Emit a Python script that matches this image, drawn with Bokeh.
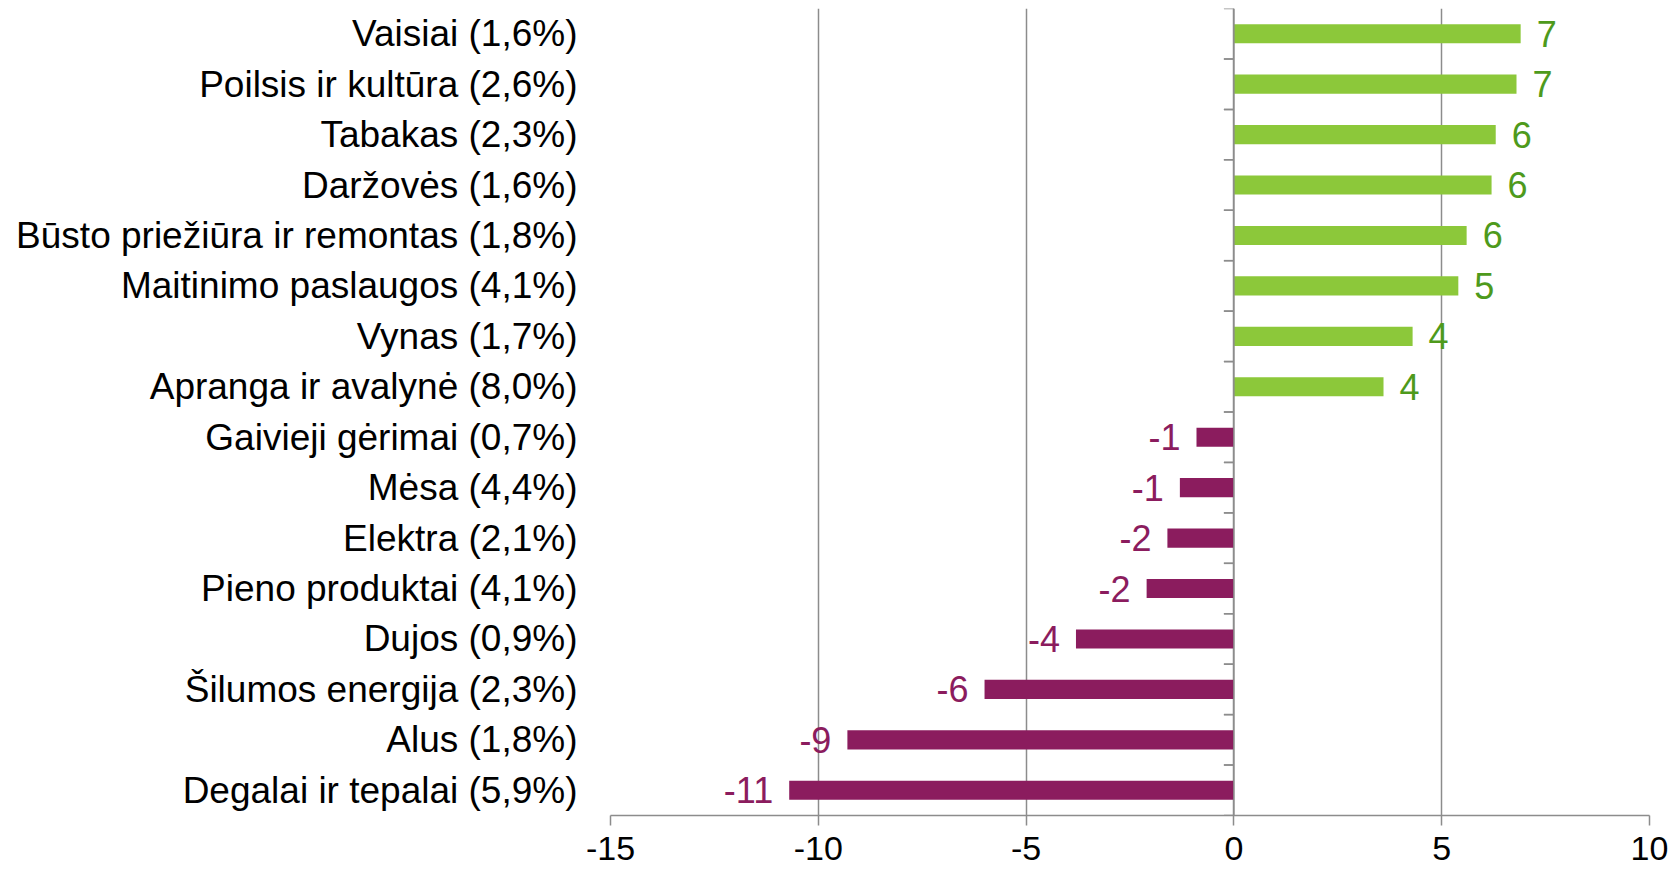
from bokeh.plotting import figure
from bokeh.models import ColumnDataSource, FactorRange, Range1d, Span, FixedTicker
from bokeh.transform import dodge
from bokeh.core.properties import value
from bokeh.embed import file_html
from bokeh.resources import INLINE

categories = [
    "Vaisiai (1,6%)", "Poilsis ir kultūra (2,6%)", "Tabakas (2,3%)", "Daržovės (1,6%)",
    "Būsto priežiūra ir remontas (1,8%)", "Maitinimo paslaugos (4,1%)", "Vynas (1,7%)",
    "Apranga ir avalynė (8,0%)", "Gaivieji gėrimai (0,7%)", "Mėsa (4,4%)", "Elektra (2,1%)",
    "Pieno produktai (4,1%)", "Dujos (0,9%)", "Šilumos energija (2,3%)", "Alus (1,8%)",
    "Degalai ir tepalai (5,9%)",
]
values = [6.9, 6.8, 6.3, 6.2, 5.6, 5.4, 4.3, 3.6, -0.9, -1.3, -1.6, -2.1, -3.8, -6.0, -9.3, -10.7]
x_ticks = [-15, -10, -5, 0, 5, 10]
x_tick_labels = ["-15", "-10", "-5", "0", "5", "10"]

GREEN = "#8cc83a"
GREEN_TXT = "#4e9a1c"
PURPLE = "#8b1c5e"
FONT = "Liberation Sans"
GRID = "#8c8c8c"

W, H = 1671, 874
BL, BR, BT, BB = 610, 22, 8, 59
px_per_unit = (W - BL - BR) / 25.0
off = 16 / px_per_unit
tick_len = 10 / px_per_unit

cats_rev = list(reversed(categories))
src = ColumnDataSource(dict(
    cat=categories,
    val=values,
    zero=[0] * len(values),
    color=[GREEN if v >= 0 else PURPLE for v in values],
    tcolor=[GREEN_TXT if v >= 0 else PURPLE for v in values],
    lab=[str(int(round(v))) for v in values],
    lx=[v + off if v >= 0 else v - off for v in values],
    align=["left" if v >= 0 else "right" for v in values],
    t0=[-tick_len] * len(values),
))

p = figure(width=W, height=H, output_backend="svg", toolbar_location=None,
           y_range=FactorRange(*cats_rev, range_padding=0), x_range=Range1d(-15, 10),
           min_border_left=BL, min_border_right=BR, min_border_top=BT, min_border_bottom=BB)
p.outline_line_color = None
p.background_fill_color = "white"
p.border_fill_color = "white"

p.hbar(y="cat", left="zero", right="val", height=0.38, fill_color="color",
       line_color=None, source=src)
p.text(x="lx", y="cat", text="lab", text_color="tcolor", text_align="align",
       text_baseline="middle", text_font=value(FONT), text_font_size="36px", source=src)

# category separator ticks on the zero axis
p.segment(x0="t0", x1="zero", y0=dodge("cat", 0.5, range=p.y_range),
          y1=dodge("cat", 0.5, range=p.y_range), line_color=GRID, line_width=1.5, source=src)
p.segment(x0="t0", x1="zero", y0=dodge("cat", -0.5, range=p.y_range),
          y1=dodge("cat", -0.5, range=p.y_range), line_color=GRID, line_width=1.5, source=src)
p.add_layout(Span(location=0, dimension="height", line_color=GRID, line_width=1.5))

# x axis
p.xaxis.ticker = FixedTicker(ticks=x_ticks)
p.xaxis.major_label_overrides = {t: s for t, s in zip(x_ticks, x_tick_labels)}
p.xaxis.minor_tick_line_color = None
p.xaxis.axis_line_color = GRID
p.xaxis.axis_line_width = 1.5
p.xaxis.major_tick_line_color = GRID
p.xaxis.major_tick_line_width = 1.5
p.xaxis.major_tick_out = 10
p.xaxis.major_tick_in = 0
p.xaxis.major_label_standoff = 11
p.xaxis.major_label_text_font = FONT
p.xaxis.major_label_text_font_size = "34px"
p.xaxis.major_label_text_color = "black"
p.xgrid.grid_line_color = GRID
p.xgrid.grid_line_width = 1.5
p.ygrid.grid_line_color = None

# y axis (labels only)
p.yaxis.axis_line_color = None
p.yaxis.major_tick_line_color = None
p.yaxis.minor_tick_line_color = None
p.yaxis.major_label_standoff = 27
p.yaxis.major_label_text_font = FONT
p.yaxis.major_label_text_font_size = "37px"
p.yaxis.major_label_text_color = "black"

open("out.html", "w").write(file_html(p, INLINE))
